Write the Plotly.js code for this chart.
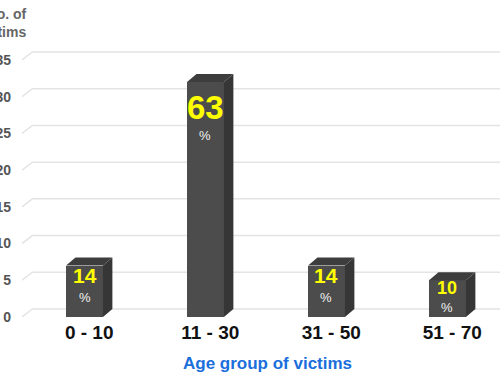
<!DOCTYPE html>
<html>
<head>
<meta charset="utf-8">
<script src="https://cdn.plot.ly/plotly-3.0.1.min.js"></script>
<style>html,body{margin:0;padding:0;background:#fff;}#chart{width:500px;height:375px;}</style>
</head>
<body>
<div id="chart"></div>
<script>
// ---- data ----
var categories = ['0 - 10', '11 - 30', '31 - 50', '51 - 70'];
var victims = [7, 32, 7, 5];
var percentLabels = ['14', '63', '14', '10'];
var yTickValues = [0, 5, 10, 15, 20, 25, 30, 35];

// ---- styles ----
var pctFontSizes = [21, 33, 21, 18];
var pctShift = [-10, -25, -10, -8];
var signShift = [-32, -53, -32, -27];
var frontColor = '#4c4c4c', sideColor = '#363636', topColor = '#3d3d3d';
var barW = 0.305, dx = 0.078, dy = 1.09;
var xr = [-0.5165, 3.434];
var yr = [0, 37.45];

var xIdx = categories.map(function (c, i) { return i; });
var traces = [];

// back-wall gridlines with perspective connectors (axis decoration)
var shapes = yTickValues.map(function (t) {
  return {type: 'path', xref: 'x', yref: 'y', layer: 'below',
    path: 'M' + xr[0] + ',' + t + ' L' + (xr[0] + dx * 1.1) + ',' + (t + dy) + ' L' + xr[1] + ',' + (t + dy),
    line: {color: '#e4e4e4', width: 1.5}};
});

// front faces
traces.push({type: 'bar', x: xIdx, y: victims, width: barW,
  marker: {color: frontColor, line: {width: 0}}, showlegend: false, hoverinfo: 'skip'});

// side and top faces
xIdx.forEach(function (xi, i) {
  var v = victims[i], l = xi - barW / 2, r = xi + barW / 2;
  traces.push({type: 'scatter', mode: 'lines', fill: 'toself', fillcolor: sideColor,
    line: {width: 0, color: sideColor}, hoverinfo: 'skip', showlegend: false,
    x: [r, r + dx, r + dx, r, r], y: [0, dy, v + dy, v, 0]});
  traces.push({type: 'scatter', mode: 'lines', fill: 'toself', fillcolor: topColor,
    line: {width: 0, color: topColor}, hoverinfo: 'skip', showlegend: false,
    x: [l, l + dx, r + dx, r, l], y: [v, v + dy, v + dy, v, v]});
});

var annotations = [];
xIdx.forEach(function (xi, i) {
  annotations.push({x: xi, y: victims[i], xref: 'x', yref: 'y', text: percentLabels[i],
    showarrow: false, yanchor: 'middle', yshift: pctShift[i],
    font: {family: 'Liberation Sans, Arial, sans-serif', size: pctFontSizes[i], color: '#ffff00', weight: 'bold'}});
  annotations.push({x: xi, y: victims[i], xref: 'x', yref: 'y', text: '%',
    showarrow: false, yanchor: 'middle', yshift: signShift[i],
    font: {family: 'Liberation Sans, Arial, sans-serif', size: 13, color: '#f2f2f2'}});
});
annotations.push({xref: 'paper', yref: 'paper', x: 0.0146, y: 1.138, xanchor: 'right', yanchor: 'top',
  align: 'right', showarrow: false, text: 'No. of<br>victims',
  font: {family: 'Liberation Sans, Arial, sans-serif', size: 14, color: '#666666', weight: 'bold'}});
annotations.push({xref: 'paper', yref: 'paper', x: 0.514, y: -0.17, xanchor: 'center', yanchor: 'middle',
  showarrow: false, text: 'Age group of victims',
  font: {family: 'Liberation Sans, Arial, sans-serif', size: 17, color: '#1a6fdc', weight: 'bold'}});

var layout = {
  width: 500, height: 375,
  margin: {l: 22, r: 0, t: 42, b: 58},
  paper_bgcolor: '#ffffff', plot_bgcolor: '#ffffff',
  showlegend: false,
  shapes: shapes,
  xaxis: {range: xr, showgrid: false, zeroline: false, showline: false, ticks: '',
    tickmode: 'array', tickvals: xIdx.map(function (x) { return x + dx / 2; }), ticktext: categories,
    tickfont: {family: 'Liberation Sans, Arial, sans-serif', size: 19, color: '#111111', weight: 'bold'},
    ticklabelstandoff: 2, fixedrange: true},
  yaxis: {range: yr, showgrid: false, zeroline: false, showline: false, ticks: '',
    tickmode: 'array', tickvals: yTickValues, ticktext: yTickValues.map(String),
    tickfont: {family: 'Liberation Sans, Arial, sans-serif', size: 14, color: '#555555', weight: 'bold'},
    ticklabelstandoff: 10, fixedrange: true},
  annotations: annotations,
  bargap: 0
};

Plotly.newPlot('chart', traces, layout, {displayModeBar: false, staticPlot: true});
</script>
</body>
</html>
